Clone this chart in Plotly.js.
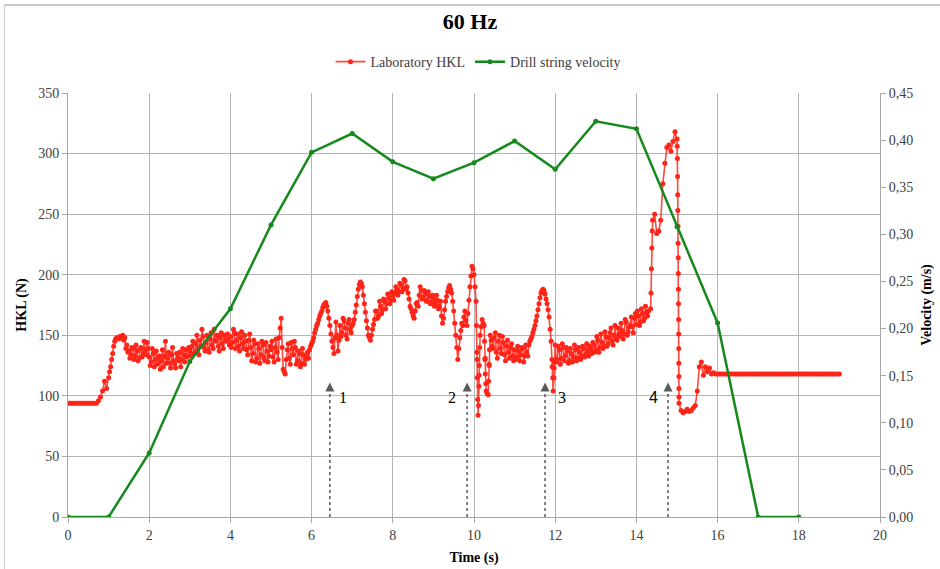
<!DOCTYPE html>
<html>
<head>
<meta charset="utf-8">
<script src="https://cdn.plot.ly/plotly-3.0.1.min.js"></script>
<style>
  html, body { margin: 0; padding: 0; background: #ffffff; }
  #wrap { position: relative; width: 940px; height: 569px; overflow: hidden; }
  #frame { position: absolute; left: 4px; top: 4px; width: 940px; height: 570px;
           border-top: 2px solid #c9c9c9; border-left: 1px solid #c9c9c9; pointer-events: none; }
  #chart { position: absolute; left: 0; top: 0; width: 940px; height: 569px; }
</style>
</head>
<body>
<div id="wrap">
  <div id="chart"></div>
  <div id="frame"></div>
</div>
<script>
// Hook load, sampled every 0.05 s from t = 0 s (one row per second)
const hklStep = 0.05;
const hkl = [
  94,94,94,94,94,94,94,94,94,94,94,94,94,94,94,96,99,104,112,106,
  115,124,135,145,148,147,148,150,148,142,137,134,139,133,137,131,140,135,138,144,
  132,128,135,130,126,133,129,124,145,131,127,134,129,123,131,136,130,134,138,133,
  137,141,135,143,139,146,155,140,144,138,147,142,155,145,141,148,143,150,145,147,
  149,144,152,146,141,148,143,150,138,146,140,135,143,131,139,134,142,129,137,133,
  138,132,140,136,148,164,122,118,138,131,144,134,140,129,135,127,134,130,136,138,
  143,148,155,160,166,170,175,177,170,158,145,135,161,137,158,152,162,150,160,155,
  158,163,175,188,194,190,176,162,150,146,155,163,170,166,174,171,178,176,181,179,
  183,185,188,186,192,189,195,190,180,172,166,170,177,183,187,181,184,178,182,177,
  180,176,179,174,166,164,178,186,191,185,170,150,130,148,160,165,162,168,190,207,
  200,178,84,150,163,158,104,101,150,141,148,136,145,139,149,134,141,136,140,133,
  138,132,137,134,139,133,136,142,147,152,158,166,176,185,188,184,176,165,145,104,
  142,130,138,131,140,133,137,129,135,132,138,131,136,133,139,134,137,141,135,142,
  138,146,140,144,141,149,143,152,145,150,147,156,149,154,151,161,153,158,157,164,
  159,166,161,168,164,169,170,172,245,250,234,236,245,275,292,305,307,302,310,318,
  312,94,88,86,87,89,87,88,90,92,104,124,128,117,124,120,123,118,119,118,
  118,118,118,118,118,118,118,118,118,118,118,118,118,118,118,118,118,118,118,118,
  118,118,118,118,118,118,118,118,118,118,118,118,118,118,118,118,118,118,118,118,
  118,118,118,118,118,118,118,118,118,118,118,118,118,118,118,118,118,118,118,118,
  118
];

// In-between samples, 0.025 s after each regular sample, for the noisy stretch 1.0 - 14.3 s
const hklMidStart = 1.025;
const hklMid = [
  120,130,141,147,148,149,149,146,139,136,131,140,130,142,129,139,132,145,134,139,
  125,139,124,137,131,122,138,133,127,136,123,140,126,135,129,124,139,128,132,140,
  133,145,136,150,134,141,149,137,150,136,152,139,146,150,137,152,139,146,151,142,
  140,155,139,151,137,153,139,145,134,151,129,146,128,143,127,145,131,144,128,141,
  145,128,147,130,156,140,120,130,143,126,139,145,126,137,124,139,126,133,131,141,
  145,152,158,163,168,173,176,174,164,151,140,148,150,146,149,164,156,147,163,152,
  160,169,182,192,193,183,169,156,148,150,159,170,164,178,168,180,172,184,176,186,
  179,190,183,193,186,196,188,185,174,169,164,176,174,190,180,187,178,186,176,183,
  174,183,172,178,160,171,182,189,188,178,160,140,139,154,158,170,158,179,199,205,
  190,130,117,157,160,131,102,125,146,139,152,131,150,135,144,129,146,131,143,129,
  130,141,129,140,128,142,133,145,149,155,162,171,181,187,187,180,171,155,124,123,
  128,141,126,143,129,140,127,139,128,142,129,140,130,141,132,143,133,138,144,136,
  149,136,151,139,153,141,148,156,142,158,146,151,160,147,163,150,157,165,152,168,
  170,158,172,162,174,166
];

// Extra samples captured during the fast transients
const hklFastTime = [
  10.06,10.07,10.08,10.09,10.11,10.12,10.13,10.14,10.26,10.27,10.28,10.29,10.36,10.37,10.38,
  11.92,11.94,11.97,11.98,
  14.36,14.37,14.38,14.39,
  15.005,15.010,15.014,15.018,15.021,15.024,15.027,15.030,15.032,15.035,15.037,15.040,15.042,15.044,15.046,15.047,15.048,15.049
];
const hklFast = [
  158,136,115,97,92,108,125,140,145,130,118,110,112,126,138,
  130,115,115,128,
  185,205,222,236,
  306,296,281,266,253,240,226,214,201,188,176,163,151,139,127,116,106,99
];

// Drill string velocity, one reading per second
const velTime = [0,1,2,3,4,5,6,7,8,9,10,11,12,13,14,15,16,17,18];
const velocity = [0,0,0.068,0.165,0.221,0.310,0.387,0.407,0.377,0.359,0.376,0.399,0.369,0.420,0.412,0.308,0.206,0,0];

// Event markers
const eventTime = [6.45, 9.83, 11.75, 14.78];
const eventLabel = ['1', '2', '3', '4'];
const eventLabelHKL = 99;
const eventArrowTopHKL = 111;

// Merge all samples into one time-ordered series
const hklPoints = hkl.map((v, i) => [+(i * hklStep).toFixed(4), v])
  .concat(hklMid.map((v, i) => [+(hklMidStart + i * hklStep).toFixed(4), v]))
  .concat(hklFastTime.map((t, i) => [t, hklFast[i]]))
  .sort((a, b) => a[0] - b[0]);
const hklT = hklPoints.map(p => p[0]);
const hklV = hklPoints.map(p => p[1]);

const serif = '"Liberation Serif", "Times New Roman", serif';
const gridCol = '#b5b5b5';
const tickFont = () => ({ family: serif, size: 14, color: '#404040' });

const traces = [
  {
    x: hklT, y: hklV, name: 'Laboratory HKL', type: 'scatter', mode: 'lines+markers',
    line: { color: 'rgba(255,40,30,0.85)', width: 1.6 },
    marker: { color: '#ff2418', size: 5 },
    yaxis: 'y'
  },
  {
    x: velTime, y: velocity, name: 'Drill string velocity', type: 'scatter', mode: 'lines+markers',
    line: { color: '#16891c', width: 2.5 },
    marker: { color: '#16891c', size: 5 },
    yaxis: 'y2'
  }
];

const shapes = eventTime.map(t => ({
  type: 'line', xref: 'x', yref: 'y', x0: t, x1: t, y0: 0, y1: eventArrowTopHKL - 6,
  line: { color: '#5a5a5a', width: 1.5, dash: 'dot' }
}));

const labelShift = [13, -15, 17, -15];
const annotations = [];
eventTime.forEach((t, i) => {
  annotations.push({
    xref: 'x', yref: 'y', axref: 'x', ayref: 'y',
    x: t, y: eventArrowTopHKL, ax: t, ay: eventArrowTopHKL - 7,
    text: '', showarrow: true, arrowhead: 2, arrowsize: 1.2, arrowwidth: 1.5, arrowcolor: '#5a5a5a'
  });
  annotations.push({
    xref: 'x', yref: 'y', x: t, y: eventLabelHKL, xshift: labelShift[i],
    text: eventLabel[i], showarrow: false,
    font: { family: i === 3 ? '"Liberation Sans", Arial, sans-serif' : serif, size: 16, color: '#000' }
  });
});

const layout = {
  width: 940, height: 569,
  font: { family: serif, size: 14, color: '#404040' },
  paper_bgcolor: 'rgba(0,0,0,0)', plot_bgcolor: '#ffffff',
  margin: { l: 68, r: 60, t: 93, b: 52 },
  separators: ', ',
  title: {
    text: '<b>60 Hz</b>', font: { family: serif, size: 22, color: '#000' },
    x: 0.5, xref: 'container', y: 0.962, yanchor: 'middle'
  },
  showlegend: true,
  legend: {
    orientation: 'h', x: 0.505, xanchor: 'center', y: 1.073, yanchor: 'middle',
    font: { family: serif, size: 14, color: '#404040' }, bgcolor: 'rgba(0,0,0,0)'
  },
  xaxis: {
    range: [0, 20], tick0: 0, dtick: 2, showgrid: true, gridcolor: gridCol, gridwidth: 1,
    zeroline: false, showline: true, linecolor: '#a8a8a8', linewidth: 1,
    ticks: 'outside', ticklen: 5, tickcolor: '#a8a8a8', tickfont: tickFont(),
    title: { text: '<b>Time (s)</b>', font: { family: serif, size: 14, color: '#000' }, standoff: 10 }
  },
  yaxis: {
    range: [0, 350], tick0: 0, dtick: 50, showgrid: true, gridcolor: gridCol, gridwidth: 1,
    zeroline: false, showline: true, linecolor: '#a8a8a8', linewidth: 1,
    ticks: 'outside', ticklen: 5, tickcolor: '#a8a8a8', tickfont: tickFont(),
    title: { text: '<b>HKL (N)</b>', font: { family: serif, size: 14, color: '#000' }, standoff: 8 }
  },
  yaxis2: {
    overlaying: 'y', side: 'right', range: [0, 0.45], tick0: 0, dtick: 0.05, tickformat: '.2f',
    showgrid: false, zeroline: false, showline: true, linecolor: '#a8a8a8', linewidth: 1,
    ticks: 'outside', ticklen: 5, tickcolor: '#a8a8a8', tickfont: tickFont(),
    title: { text: '<b>Velocity (m/s)</b>', font: { family: serif, size: 14, color: '#000' }, standoff: 8 }
  },
  shapes: shapes,
  annotations: annotations
};

Plotly.newPlot('chart', traces, layout, { displayModeBar: false, staticPlot: true });
</script>
</body>
</html>
